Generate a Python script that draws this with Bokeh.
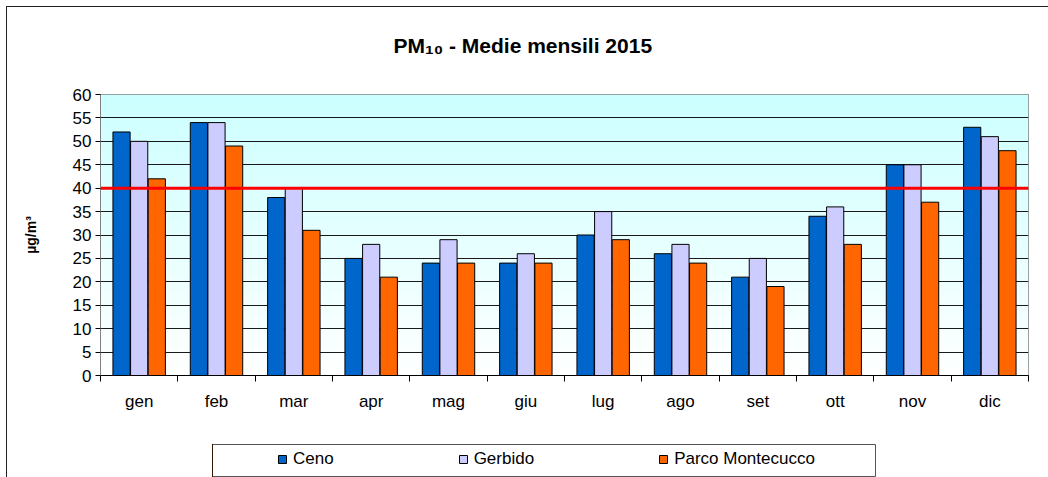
import numpy as np
from bokeh.plotting import figure
from bokeh.layouts import column
from bokeh.models import (ColumnDataSource, FixedTicker, Span, Legend, LegendItem, Range1d, Title)
from bokeh.transform import dodge
from bokeh.embed import file_html
from bokeh.resources import INLINE

months = ["gen", "feb", "mar", "apr", "mag", "giu", "lug", "ago", "set", "ott", "nov", "dic"]
ceno = [52, 54, 38, 25, 24, 24, 30, 26, 21, 34, 45, 53]
gerbido = [50, 54, 40, 28, 29, 26, 35, 28, 25, 36, 45, 51]
parco = [42, 49, 31, 21, 24, 24, 29, 24, 19, 28, 37, 48]
series_names = ["Ceno", "Gerbido", "Parco Montecucco"]
series_colors = ["#0066cc", "#ccccff", "#ff6600"]
limit_value = 40
y_ticks = list(range(0, 65, 5))
title_text = "PM\u2081\u2080 - Medie mensili 2015"

FONT = "Liberation Sans"
BORDER = "1px solid #222222"

src = ColumnDataSource(dict(x=list(range(len(months))), ceno=ceno, gerbido=gerbido, parco=parco))
bar_cols = ["ceno", "gerbido", "parco"]

p = figure(width=1042, height=431, output_backend="svg", toolbar_location=None,
           x_range=Range1d(-0.5, len(months) - 0.5), y_range=Range1d(0, 60),
           min_border_left=93, min_border_right=21, min_border_top=87, min_border_bottom=63)
p.title = None
p.styles = {"border-left": BORDER, "border-top": BORDER}
if "frame_align" in p.properties():
    p.frame_align = False

# spacer title (nearest to the frame) then the real title above it
p.add_layout(Title(text=" ", text_font_size="1px", standoff=15), "above")
p.add_layout(Title(text=title_text, align="left", offset=293, text_font=FONT,
                   text_font_size="21px", text_font_style="bold", text_color="black",
                   standoff=40), "above")

# background gradient
n = 200
t = np.linspace(0, 1, n)  # 0 bottom -> 1 top
r = (255 - (255 - 204) * t).astype(np.uint32)
img = np.zeros((n, 1), dtype=np.uint32)
view = img.view(dtype=np.uint8).reshape((n, 1, 4))
view[:, 0, 0] = r
view[:, 0, 1] = 255
view[:, 0, 2] = 255
view[:, 0, 3] = 255
bg = p.image_rgba(image=[img], x=-0.5, y=0, dw=12, dh=60)
bg.level = "image"

p.background_fill_color = "white"
p.border_fill_color = "white"
p.outline_line_color = "#808080"
p.outline_line_width = 1

# grid
p.xgrid.grid_line_color = None
p.ygrid.ticker = FixedTicker(ticks=y_ticks)
p.ygrid.grid_line_color = "#1a1a1a"
p.ygrid.grid_line_width = 1

# bars
off = 0.228
w = 0.222
for k, col in enumerate(bar_cols):
    p.vbar(x=dodge("x", (k - 1) * off, range=p.x_range), top=col, width=w, source=src,
           fill_color=series_colors[k], line_color="black", line_width=1)

# limit line
p.add_layout(Span(location=limit_value, dimension="width", line_color="#ff0000", line_width=3))

# x axis
xa = p.xaxis[0]
xa.ticker = FixedTicker(ticks=list(range(len(months))),
                        minor_ticks=[i - 0.5 for i in range(len(months) + 1)])
xa.major_label_overrides = {i: m for i, m in enumerate(months)}
xa.major_tick_out = 0
xa.major_tick_in = 0
xa.minor_tick_out = 6
xa.minor_tick_in = 0
xa.minor_tick_line_color = "black"
xa.axis_line_color = "black"
xa.major_label_text_font = FONT
xa.major_label_text_font_size = "17px"
xa.major_label_text_color = "black"
xa.major_label_standoff = 10

# y axis
ya = p.yaxis[0]
ya.ticker = FixedTicker(ticks=y_ticks)
ya.minor_tick_line_color = None
ya.major_tick_out = 5
ya.major_tick_in = 0
ya.major_tick_line_color = "black"
ya.axis_line_color = "#808080"
ya.major_label_text_font = FONT
ya.major_label_text_font_size = "17px"
ya.major_label_text_color = "black"
ya.major_label_standoff = 4
ya.axis_label = "\u00b5g/m\u00b3"
ya.axis_label_text_font = FONT
ya.axis_label_text_font_size = "14px"
ya.axis_label_text_font_style = "bold"
ya.axis_label_text_color = "black"
ya.axis_label_standoff = 31

# legend strip (separate figure so the legend box is not clipped)
lf = figure(width=1042, height=40, output_backend="svg", toolbar_location=None,
            x_range=Range1d(100, 101), y_range=Range1d(0, 1),
            x_axis_type=None, y_axis_type=None,
            min_border_left=205, min_border_right=174, min_border_top=7, min_border_bottom=0)
lf.title = None
lf.styles = {"border-left": BORDER}
if "frame_align" in lf.properties():
    lf.frame_align = False
lf.outline_line_color = "#555555"
lf.outline_line_width = 1
lf.background_fill_color = "white"
lf.border_fill_color = "white"
items = []
for k, name in enumerate(series_names):
    rr = lf.vbar(x="x", top=bar_cols[k], width=0.1, source=src,
                 fill_color=series_colors[k], line_color="black", line_width=1)
    items.append(LegendItem(label=name, renderers=[rr]))

legend = Legend(items=items, orientation="horizontal", location=(65, 8),
                glyph_width=10, glyph_height=10, label_standoff=6, spacing=124,
                padding=0, margin=0, label_height=17,
                label_text_font=FONT, label_text_font_size="17px", label_text_color="black",
                border_line_color=None, background_fill_alpha=0)
lf.add_layout(legend, "center")

layout = column(p, lf, spacing=0, styles={"margin-left": "6px", "margin-top": "6px"})

open("out.html", "w").write(file_html(layout, INLINE))
